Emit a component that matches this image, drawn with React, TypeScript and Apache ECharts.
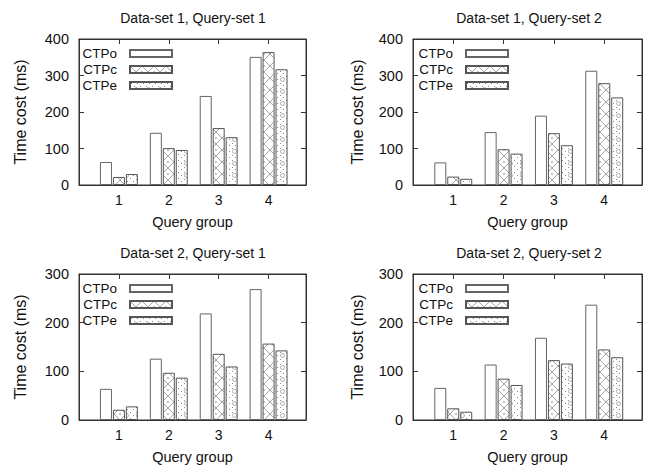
import React, { useEffect, useRef } from 'react';
import * as echarts from 'echarts';

const panelTitles = [
  'Data-set 1, Query-set 1',
  'Data-set 1, Query-set 2',
  'Data-set 2, Query-set 1',
  'Data-set 2, Query-set 2',
];
const queryGroups = [1, 2, 3, 4];
const methodNames = ['CTPo', 'CTPc', 'CTPe'];
const panelYMax = [400, 400, 300, 300];

// Data-set 1, Query-set 1
const p1CTPo = [63, 143, 244, 351];
const p1CTPc = [22, 101, 156, 364];
const p1CTPe = [30, 96, 131, 317];
// Data-set 1, Query-set 2
const p2CTPo = [62, 145, 190, 313];
const p2CTPc = [23, 98, 142, 279];
const p2CTPe = [17, 86, 109, 240];
// Data-set 2, Query-set 1
const p3CTPo = [64, 126, 219, 269];
const p3CTPc = [21, 97, 136, 157];
const p3CTPe = [28, 87, 110, 143];
// Data-set 2, Query-set 2
const p4CTPo = [66, 114, 169, 237];
const p4CTPc = [24, 85, 123, 145];
const p4CTPe = [17, 72, 116, 129];

const panelData = [
  [p1CTPo, p1CTPc, p1CTPe],
  [p2CTPo, p2CTPc, p2CTPe],
  [p3CTPo, p3CTPc, p3CTPe],
  [p4CTPo, p4CTPc, p4CTPe],
];

const FONT = '"Liberation Sans", Arial, Helvetica, sans-serif';

const grids = [
  { left: 79, top: 39, width: 227, height: 146 },
  { left: 413, top: 39, width: 229, height: 146 },
  { left: 79, top: 274, width: 227, height: 146 },
  { left: 413, top: 274, width: 229, height: 146 },
];
const yNameGaps = [51, 48, 51, 48];
const titlePos = [
  [193, 18],
  [529, 18],
  [193, 253],
  [529, 253],
];
const legendPos = [
  { right: 486, top: 46.5 },
  { right: 150, top: 46.5 },
  { right: 486, top: 281.5 },
  { right: 150, top: 281.5 },
];

function makePattern(kind: string): any {
  const size = 12;
  const c = document.createElement('canvas');
  c.width = size;
  c.height = size;
  const ctx = c.getContext('2d') as CanvasRenderingContext2D;
  ctx.fillStyle = '#ffffff';
  ctx.fillRect(0, 0, size, size);
  if (kind === 'cross') {
    ctx.strokeStyle = '#9a9a9a';
    ctx.lineWidth = 0.9;
    ctx.beginPath();
    ctx.moveTo(-1, -1);
    ctx.lineTo(size + 1, size + 1);
    ctx.moveTo(size + 1, -1);
    ctx.lineTo(-1, size + 1);
    ctx.stroke();
    ctx.fillStyle = '#777';
    ctx.beginPath();
    ctx.arc(0, 6, 0.8, 0, Math.PI * 2);
    ctx.arc(12, 6, 0.8, 0, Math.PI * 2);
    ctx.fill();
  } else if (kind === 'dots') {
    ctx.fillStyle = '#8a8a8a';
    const pts = [
      [1, 1], [4, 4], [7, 1], [10, 4], [1, 7], [10, 10], [4, 11],
    ];
    pts.forEach(([x, y]) => ctx.fillRect(x, y, 1, 1));
    ctx.strokeStyle = '#a0a0a0';
    ctx.lineWidth = 0.8;
    ctx.beginPath();
    ctx.arc(6.5, 7.5, 2, 0, Math.PI * 2);
    ctx.stroke();
  }
  if (kind === 'white') {
    return '#ffffff';
  }
  return { image: c.toDataURL(), repeat: 'repeat', imageWidth: size, imageHeight: size };
}

export default function App() {
  const ref = useRef<HTMLDivElement>(null);
  useEffect(() => {
    if (!ref.current) return;
    const chart = echarts.init(ref.current, undefined, { renderer: 'svg' });
    const fills = [makePattern('white'), makePattern('cross'), makePattern('dots')];
    const axisLineStyle = { color: '#333', width: 1 };

    const xAxes: any[] = [];
    const yAxes: any[] = [];
    const series: any[] = [];
    const legends: any[] = [];
    const graphics: any[] = [];

    grids.forEach((g, p) => {
      xAxes.push({
        type: 'value',
        gridIndex: p,
        min: 0.2,
        max: 4.75,
        position: 'bottom',
        axisLine: { show: true, onZero: false, lineStyle: axisLineStyle },
        axisTick: { show: true, inside: true, length: 5, customValues: queryGroups, lineStyle: axisLineStyle },
        axisLabel: { customValues: queryGroups, margin: 8, fontSize: 14, color: '#111', fontFamily: FONT },
        splitLine: { show: false },
        name: 'Query group',
        nameLocation: 'middle',
        nameGap: 29,
        nameTextStyle: { fontSize: 14.5, color: '#111', fontFamily: FONT },
      });
      xAxes.push({
        type: 'value',
        gridIndex: p,
        min: 0.2,
        max: 4.75,
        position: 'top',
        axisLine: { show: true, onZero: false, lineStyle: axisLineStyle },
        axisTick: { show: true, inside: true, length: 5, customValues: queryGroups, lineStyle: axisLineStyle },
        axisLabel: { show: false },
        splitLine: { show: false },
      });
      yAxes.push({
        type: 'value',
        gridIndex: p,
        min: 0,
        max: panelYMax[p],
        interval: 100,
        position: 'left',
        axisLine: { show: true, onZero: false, lineStyle: axisLineStyle },
        axisTick: { show: true, inside: true, length: 5, lineStyle: axisLineStyle },
        axisLabel: { margin: 10, fontSize: 14.5, color: '#111', fontFamily: FONT },
        splitLine: { show: false },
        name: 'Time cost (ms)',
        nameLocation: 'middle',
        nameGap: yNameGaps[p],
        nameTextStyle: { fontSize: 16, color: '#111', fontFamily: FONT },
      });
      yAxes.push({
        type: 'value',
        gridIndex: p,
        min: 0,
        max: panelYMax[p],
        interval: 100,
        position: 'right',
        axisLine: { show: true, onZero: false, lineStyle: axisLineStyle },
        axisTick: { show: true, inside: true, length: 5, lineStyle: axisLineStyle },
        axisLabel: { show: false },
        splitLine: { show: false },
      });
      methodNames.forEach((name, s) => {
        series.push({
          type: 'bar',
          name,
          xAxisIndex: p * 2,
          yAxisIndex: p * 2,
          data: queryGroups.map((q, i) => [q, panelData[p][s][i]]),
          barWidth: 12,
          barGap: '8%',
          silent: true,
          itemStyle: { color: fills[s], borderColor: s === 0 ? '#666' : '#555', borderWidth: 1 },
        });
      });
      legends.push({
        orient: 'vertical',
        align: 'right',
        right: legendPos[p].right,
        top: legendPos[p].top,
        padding: 0,
        itemWidth: 42,
        itemHeight: 7,
        itemGap: 2,
        icon: 'rect',
        selectedMode: false,
        data: methodNames,
        textStyle: { fontSize: 13.5, color: '#111', fontFamily: FONT, padding: [0, 8, 0, 0] },
      });
      graphics.push({
        type: 'text',
        x: titlePos[p][0],
        y: titlePos[p][1],
        style: {
          text: panelTitles[p],
          fontSize: 14,
          fontFamily: FONT,
          fill: '#111',
          align: 'center',
          verticalAlign: 'middle',
          textAlign: 'center',
          textVerticalAlign: 'middle',
        },
      });
    });

    chart.setOption({
      animation: false,
      backgroundColor: '#ffffff',
      grid: grids.map((g) => ({ ...g, show: true, borderColor: '#333', borderWidth: 1, backgroundColor: 'transparent' })),
      xAxis: xAxes,
      yAxis: yAxes,
      legend: legends,
      series,
      graphic: graphics,
    });
    return () => chart.dispose();
  }, []);
  return <div ref={ref} style={{ position: 'fixed', left: 0, top: 0, width: 659, height: 470 }} />;
}
